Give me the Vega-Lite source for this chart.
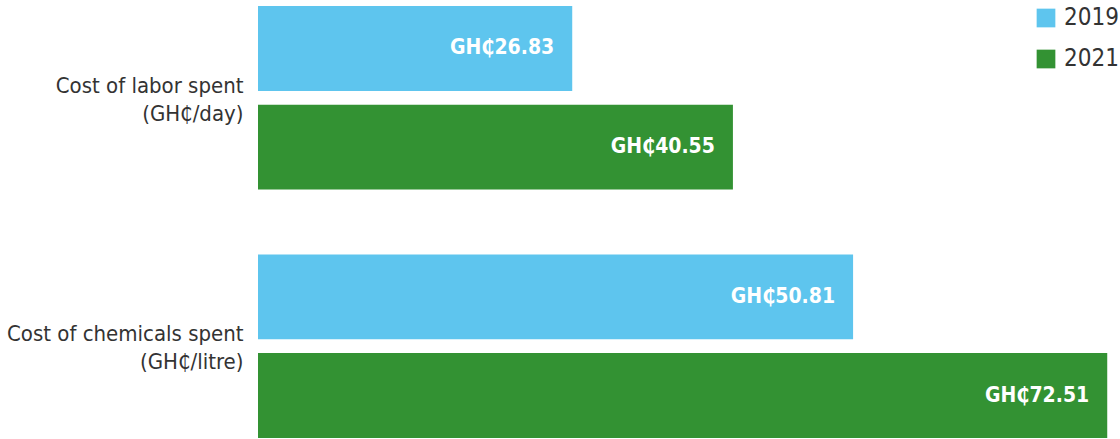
{
  "$schema": "https://vega.github.io/schema/vega-lite/v6.json",
  "autosize": "none",
  "width": 862,
  "height": 432,
  "padding": {"left": 258, "top": 6, "right": 0, "bottom": 1},
  "background": "white",
  "config": {"view": {"stroke": null}, "font": "DejaVu Sans Condensed"},
  "data": {"values": [
    {"category": "Cost of labor spent\u00a0|(GH₵/day)", "year": "2019", "value": 26.83, "label": "GH₵26.83"},
    {"category": "Cost of labor spent\u00a0|(GH₵/day)", "year": "2021", "value": 40.55, "label": "GH₵40.55"},
    {"category": "Cost of chemicals spent|(GH₵/litre)", "year": "2019", "value": 50.81, "label": "GH₵50.81"},
    {"category": "Cost of chemicals spent|(GH₵/litre)", "year": "2021", "value": 72.51, "label": "GH₵72.51"}
  ]},
  "encoding": {
    "y": {"field": "category", "type": "nominal", "sort": null,
      "scale": {"paddingInner": 0.261, "paddingOuter": 0},
      "axis": {"title": null, "domain": false, "ticks": false, "labelPadding": 15,
        "labelExpr": "split(datum.label, '|')", "labelFontSize": 22, "labelLineHeight": 28, "labelOffset": -12,
        "labelColor": "#333333", "labelFont": "DejaVu Sans Condensed", "labelLimit": 300}},
    "yOffset": {"field": "year", "type": "nominal", "scale": {"paddingInner": 0.14, "paddingOuter": 0}},
    "x": {"field": "value", "type": "quantitative", "scale": {"domain": [0, 73.6], "nice": false}, "axis": null}
  },
  "layer": [
    {"mark": {"type": "bar"},
     "encoding": {"color": {"field": "year", "type": "nominal",
       "scale": {"domain": ["2019", "2021"], "range": ["#5EC5EE", "#339233"]},
       "legend": {"title": null, "orient": "none", "legendX": 776, "legendY": 0,
         "symbolType": "square", "symbolSize": 350, "symbolStrokeWidth": 0, "symbolOpacity": 1,
         "labelFontSize": 24, "labelColor": "#333333", "labelOffset": 6, "rowPadding": 17,
         "labelFont": "DejaVu Sans Condensed", "padding": 0}}}},
    {"mark": {"type": "text", "align": "right", "baseline": "middle", "dx": -18, "color": "white",
       "fontSize": 21, "fontWeight": "bold", "font": "DejaVu Sans Condensed"},
     "encoding": {"text": {"field": "label"}}}
  ]
}
